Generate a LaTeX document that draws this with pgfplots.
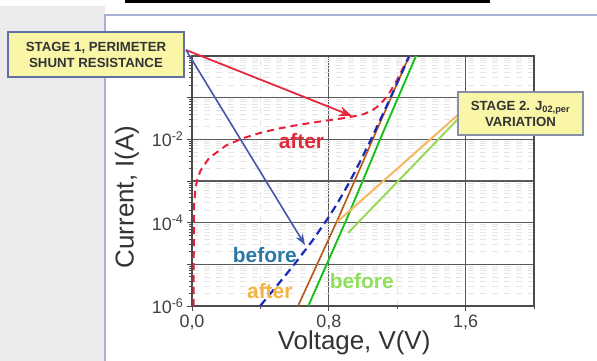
\documentclass[border=0pt]{standalone}
\usepackage{fontspec}
\setmainfont{Liberation Sans}
\usepackage{pgfplots}
\pgfplotsset{compat=1.18}
\usetikzlibrary{arrows.meta}
\definecolor{cred}{HTML}{E8203A}
\definecolor{cblue}{HTML}{1A2AB8}
\definecolor{cbrown}{HTML}{D8853A}
\definecolor{cbrowndot}{HTML}{8B2A10}
\definecolor{cgreen}{HTML}{33DD33}
\definecolor{cgreendot}{HTML}{119911}
\definecolor{tred}{HTML}{E02A3A}
\definecolor{tblue}{HTML}{2A78A8}
\definecolor{torange}{HTML}{F5B342}
\definecolor{tgreen}{HTML}{8FE05A}
\definecolor{arrred}{HTML}{E8283C}
\definecolor{arrblue}{HTML}{4656A8}
\definecolor{lorange}{HTML}{F4B860}
\definecolor{lgreen}{HTML}{9AD85A}
\definecolor{boxfill}{HTML}{FAF6A8}
\definecolor{boxdraw}{HTML}{6070A0}
\definecolor{boxdrawb}{HTML}{8890A8}
\definecolor{panel}{HTML}{A8B0D8}
\begin{document}
\begin{tikzpicture}
\useasboundingbox (-192bp,-55bp) rectangle (405bp,306bp);
\fill[white] (-192bp,-55bp) rectangle (405bp,306bp);
\fill[black!8] (-192bp,-55bp) rectangle (-87bp,300bp);
\fill[black] (-67bp,303bp) rectangle (298bp,306bp);
\draw[draw=panel, fill=white, line width=1.2bp] (-87bp,-60bp) -- (-87bp,291bp) -- (410bp,291bp) -- (410bp,-60bp) -- cycle;
\begin{axis}[at={(0,0)}, anchor=south west, scale only axis,
  width=342bp, height=250bp,
  xmin=0, xmax=2, ymode=log, ymin=1e-6, ymax=1,
  xtick={0,0.8,1.6}, xticklabels={{0,0},{0,8},{1,6}},
  minor xtick={0.4,1.2,2.0},
  ytick={1e-6,1e-5,1e-4,1e-3,1e-2,1e-1,1},
  yticklabels={10\textsuperscript{-6},,10\textsuperscript{-4},,10\textsuperscript{-2},,},
  grid=both,
  major grid style={draw=black!65, line width=1.1bp},
  minor grid style={draw=black!10, dash pattern=on 6bp off 6bp, line width=0.6bp},
  axis line style={draw=black!70, line width=1.2bp},
  tick style={draw=black!70, line width=0.8bp},
  tick align=outside, xtick pos=bottom, ytick pos=left,
  major tick length=5bp, minor tick length=3bp,
  tick label style={font=\fontsize{18}{20}\selectfont, text=black!75},
  /pgf/number format/assume math mode=true,
  xlabel={Voltage, V(V)}, ylabel={Current, I(A)},
  label style={font=\fontsize{26}{30}\selectfont, text=black!80},
  xlabel style={at={(axis description cs:0.474,-0.148)}, anchor=center},
  ylabel style={at={(axis description cs:-0.19,0.436)}, anchor=center},
  clip=false,
]
\addplot[color=cred, line width=2bp, dash pattern=on 7bp off 5bp] coordinates {
 (0.010,1e-6)(0.010,1e-5)(0.011,1e-4)(0.013,3e-4)(0.02,6.5e-4)(0.03,1.05e-3)
 (0.05,1.79e-3)(0.1,3.57e-3)(0.2,7.14e-3)(0.3,1.07e-2)(0.4,1.43e-2)(0.5,1.79e-2)
 (0.6,2.14e-2)(0.7,2.5e-2)(0.8,2.87e-2)(0.9,3.28e-2)(1.0,3.98e-2)(1.05,4.8e-2)
 (1.1,6.8e-2)(1.15,0.121)(1.2,0.268)(1.25,0.69)(1.27,1.0)};
\addplot[color=cbrown, line width=1.8bp] coordinates {(0.62,1e-6)(0.86,1.41e-4)(1.27,1.0)};
\addplot[color=cbrowndot, line width=1bp, densely dotted] coordinates {(0.62,1e-6)(0.86,1.41e-4)(1.27,1.0)};
\addplot[color=cgreen, line width=2bp] coordinates {(0.68,1e-6)(0.90,1.1e-4)(1.10,1e-2)(1.31,1.0)};
\addplot[color=cgreendot, line width=1.2bp, densely dotted] coordinates {(0.68,1e-6)(0.90,1.1e-4)(1.10,1e-2)(1.31,1.0)};
\addplot[color=cblue, line width=2.2bp, dash pattern=on 8bp off 5bp] coordinates {
 (0.40,1.02e-6)(0.5,3.17e-6)(0.6,1.02e-5)(0.7,3.5e-5)(0.8,1.37e-4)(0.85,2.91e-4)
 (0.9,6.6e-4)(0.95,1.58e-3)(1.0,4.03e-3)(1.05,1.06e-2)(1.1,0.029)(1.15,0.0799)
 (1.2,0.227)(1.24,0.519)(1.27,0.973)};
\node[text=tred, inner sep=0, font=\fontsize{21}{24}\selectfont\bfseries] at (axis cs:0.64,9.1e-3) {after};
\node[text=tblue, inner sep=0, font=\fontsize{21}{24}\selectfont\bfseries] at (axis cs:0.426,1.66e-5) {before};
\node[text=torange, inner sep=0, font=\fontsize{21}{24}\selectfont\bfseries] at (axis cs:0.455,2.34e-6) {after};
\node[text=tgreen, inner sep=0, font=\fontsize{21}{24}\selectfont\bfseries] at (axis cs:0.993,3.98e-6) {before};
\end{axis}
\draw[-{Stealth[length=13bp,width=10bp]}, color=arrred, line width=1.8bp] (-6bp,256bp) -- (160bp,190bp);
\draw[-{Stealth[length=11bp,width=8bp]}, color=arrblue, line width=1.6bp] (-6bp,256bp) -- (113bp,61bp);
\draw[color=lorange, line width=2bp] (267bp,192bp) -- (145bp,84bp);
\draw[color=lgreen, line width=2bp] (267bp,188bp) -- (156bp,73bp);
\node[draw=boxdraw, fill=boxfill, line width=1.5bp, minimum width=176bp, minimum height=45bp, align=center, inner sep=0, font=\fontsize{13.3}{16}\selectfont\bfseries, text=black!80] at (-96bp,251.5bp) {STAGE 1, PERIMETER\\SHUNT RESISTANCE};
\node[draw=boxdrawb, fill=boxfill, line width=1.5bp, minimum width=125bp, minimum height=43bp, align=center, inner sep=0, font=\fontsize{13.3}{16}\selectfont\bfseries, text=black!80] at (328.5bp,192.5bp) {STAGE 2. J\textsubscript{02,per}\\VARIATION};
\end{tikzpicture}
\end{document}
